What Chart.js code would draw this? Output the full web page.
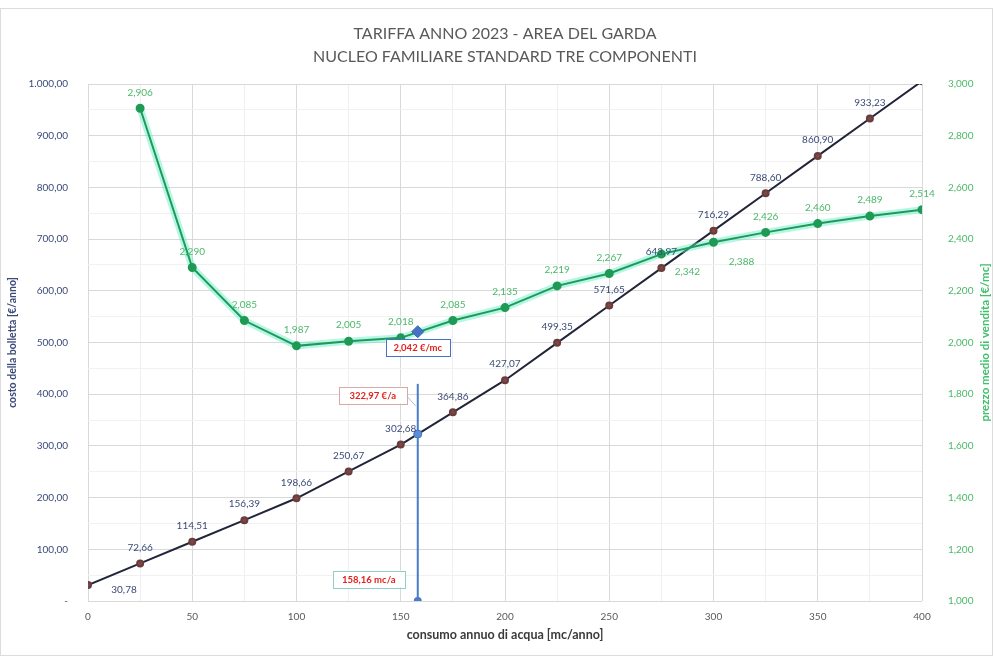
<!DOCTYPE html>
<html>
<head>
<meta charset="utf-8">
<script src="https://cdn.jsdelivr.net/npm/chart.js@4/dist/chart.umd.min.js"></script>
<style>
  html, body { margin: 0; padding: 0; background: #ffffff; }
  #wrap { width: 993px; height: 656px; }
</style>
</head>
<body>
<div id="wrap"><canvas id="c" width="993" height="656"></canvas></div>
<script>
// Consumo annuo [mc/anno] e costo della bolletta [€/anno]
const consumo = [0, 25, 50, 75, 100, 125, 150, 175, 200, 225, 250, 275, 300, 325, 350, 375, 400];
const costoBolletta = [30.78, 72.66, 114.51, 156.39, 198.66, 250.67, 302.68, 364.86, 427.07, 499.35, 571.65, 643.97, 716.29, 788.60, 860.90, 933.23, 1005.55];

// Prezzo medio di vendita [€/mc]
const consumoPrezzo = [25, 50, 75, 100, 125, 150, 175, 200, 225, 250, 275, 300, 325, 350, 375, 400];
const prezzoMedio = [2.906, 2.290, 2.085, 1.987, 2.005, 2.018, 2.085, 2.135, 2.219, 2.267, 2.342, 2.388, 2.426, 2.460, 2.489, 2.514];

// Nucleo familiare standard
const consumoStandard = 158.16;
const costoStandard = 322.97;
const prezzoStandard = 2.042;
const lineaStandard = [0, 420];

// Assi
const xTickLabels = [0, 50, 100, 150, 200, 250, 300, 350, 400];
const titolo = ['TARIFFA ANNO 2023 - AREA DEL GARDA', 'NUCLEO FAMILIARE STANDARD TRE COMPONENTI'];
const titoloX = 'consumo annuo di acqua [mc/anno]';
const titoloY = 'costo della bolletta [€/anno]';
const titoloY1 = 'prezzo medio di vendita [€/mc]';

const FONT = 'Lato, "Open Sans", sans-serif';
const NAVY = '#3b4a78';
const GREEN_TXT = '#4cb86a';
const GREEN = '#1f9a55';
const RED = '#e3201c';

function fmtEuro(v) {
  const parts = v.toFixed(2).split('.');
  parts[0] = parts[0].replace(/\B(?=(\d{3})+(?!\d))/g, '.');
  return parts[0] + ',' + parts[1];
}
function fmtPrezzo(v) { return v.toFixed(3).replace('.', ','); }

const bollettaPts = consumo.map((x, i) => ({ x, y: costoBolletta[i] }));
const prezzoPts = consumoPrezzo.map((x, i) => ({ x, y: prezzoMedio[i] }));

// Etichette dei valori: spostamenti rispetto al punto
const offBolletta = consumo.map((x, i) => i === 0 ? [36, 5] : [0, -16]);
const offPrezzo = consumoPrezzo.map((x, i) => {
  if (x === 275) return [26, 18];
  if (x === 300) return [28, 20];
  return [0, -16];
});

const extras = {
  id: 'extras',
  beforeDraw(chart) {
    const ctx = chart.ctx;
    ctx.save();
    ctx.fillStyle = '#ffffff';
    ctx.fillRect(0, 0, chart.width, chart.height);
    ctx.restore();
  },
  afterDatasetsDraw(chart) {
    const ctx = chart.ctx;
    const xs = chart.scales.x, ys = chart.scales.y, y1 = chart.scales.y1;
    ctx.save();
    ctx.textAlign = 'center';
    ctx.textBaseline = 'middle';

    // valori costo bolletta
    ctx.font = '10px ' + FONT;
    ctx.fillStyle = NAVY;
    bollettaPts.forEach((p, i) => {
      if (p.y > 1000) return;
      const px = xs.getPixelForValue(p.x), py = ys.getPixelForValue(p.y);
      ctx.fillText(fmtEuro(p.y), px + offBolletta[i][0], py + offBolletta[i][1]);
    });

    // valori prezzo medio
    ctx.fillStyle = GREEN_TXT;
    prezzoPts.forEach((p, i) => {
      const px = xs.getPixelForValue(p.x), py = y1.getPixelForValue(p.y);
      ctx.fillText(fmtPrezzo(p.y), px + offPrezzo[i][0], py + offPrezzo[i][1]);
    });

    // riquadri del nucleo standard
    const sx = xs.getPixelForValue(consumoStandard);
    const box = (text, cx, cy, w, border) => {
      ctx.fillStyle = '#ffffff';
      ctx.fillRect(cx - w / 2, cy - 8.5, w, 17);
      ctx.strokeStyle = border;
      ctx.lineWidth = 1;
      ctx.strokeRect(Math.round(cx - w / 2) + 0.5, Math.round(cy - 8.5) + 0.5, w, 17);
      ctx.fillStyle = RED;
      ctx.font = 'bold 9.5px ' + FONT;
      ctx.fillText(text, cx, cy + 0.5);
    };
    const pyPrezzo = y1.getPixelForValue(prezzoStandard);
    box(fmtPrezzo(prezzoStandard) + ' €/mc', sx, pyPrezzo + 16, 64, '#4472c4');

    const pyCosto = ys.getPixelForValue(costoStandard);
    ctx.strokeStyle = 'rgba(120,150,200,0.6)';
    ctx.lineWidth = 1;
    ctx.beginPath();
    ctx.moveTo(sx - 12, pyCosto - 39);
    ctx.lineTo(sx - 2, pyCosto - 28);
    ctx.stroke();
    box(fmtEuro(costoStandard) + ' €/a', sx - 45, pyCosto - 39, 68, '#d7a9a9');

    const py0 = ys.getPixelForValue(0);
    box(fmtEuro(consumoStandard) + ' mc/a', sx - 49, py0 - 22, 72, '#8fcfc6');
    ctx.restore();
  },
  afterDraw(chart) {
    const ctx = chart.ctx;
    const a = chart.chartArea;
    ctx.save();
    // titolo
    ctx.fillStyle = '#595959';
    ctx.textAlign = 'center';
    ctx.textBaseline = 'middle';
    ctx.font = '16px ' + FONT;
    const cx = (a.left + a.right) / 2;
    ctx.fillText(titolo[0], cx, 34);
    ctx.fillText(titolo[1], cx, 57);

    // titolo asse x
    ctx.font = 'bold 12.5px ' + FONT;
    ctx.fillStyle = '#3a3a3a';
    ctx.fillText(titoloX, cx, 635);

    // titoli assi verticali
    const cy = (a.top + a.bottom) / 2;
    ctx.font = 'bold 10.5px ' + FONT;
    ctx.fillStyle = NAVY;
    ctx.save();
    ctx.translate(13, cy);
    ctx.rotate(-Math.PI / 2);
    ctx.fillText(titoloY, 0, 0);
    ctx.restore();
    ctx.font = 'bold 11.5px ' + FONT;
    ctx.fillStyle = '#3fc06a';
    ctx.save();
    ctx.translate(985, cy);
    ctx.rotate(-Math.PI / 2);
    ctx.fillText(titoloY1, 0, 0);
    ctx.restore();

    // cornice
    ctx.strokeStyle = '#dcdcdc';
    ctx.lineWidth = 1;
    ctx.strokeRect(0.5, 8.5, chart.width - 1, chart.height - 9);
    ctx.restore();
  }
};

new Chart(document.getElementById('c'), {
  type: 'line',
  data: {
    datasets: [
      {
        label: 'prezzo medio',
        data: prezzoPts,
        yAxisID: 'y1',
        borderColor: GREEN,
        borderWidth: 2,
        pointRadius: 3.5,
        pointBackgroundColor: GREEN,
        pointBorderColor: GREEN,
        order: 2
      },
      {
        label: 'prezzo medio alone',
        data: prezzoPts,
        yAxisID: 'y1',
        borderColor: 'rgba(90,235,200,0.45)',
        borderWidth: 7,
        pointRadius: 0,
        order: 3
      },
      {
        label: 'prezzo nucleo standard',
        data: [{ x: consumoStandard, y: prezzoStandard }],
        yAxisID: 'y1',
        showLine: false,
        pointStyle: 'rectRot',
        pointRadius: 6,
        pointBackgroundColor: '#4472c4',
        pointBorderColor: '#3a62b0',
        order: 0
      },
      {
        label: 'costo bolletta',
        data: bollettaPts,
        yAxisID: 'y',
        borderColor: '#22253a',
        borderWidth: 2,
        pointRadius: 3,
        pointBackgroundColor: '#7a4848',
        pointBorderColor: '#6a3c3c',
        order: 4
      },
      {
        label: 'costo nucleo standard',
        data: [{ x: consumoStandard, y: costoStandard }],
        yAxisID: 'y',
        showLine: false,
        pointRadius: 4,
        pointBackgroundColor: '#5b8fd6',
        pointBorderColor: '#4472c4',
        order: 1
      },
      {
        label: 'consumo nucleo standard',
        data: lineaStandard.map(v => ({ x: consumoStandard, y: v })),
        yAxisID: 'y',
        borderColor: '#4a7cc8',
        borderWidth: 2,
        pointRadius: [3, 0],
        pointBackgroundColor: '#4a7cc8',
        pointBorderColor: '#4a7cc8',
        order: 1
      }
    ]
  },
  options: {
    responsive: false,
    animation: false,
    devicePixelRatio: 1,
    layout: { padding: { top: 84, left: 0, right: 0, bottom: 0 } },
    plugins: {
      legend: { display: false },
      title: { display: false },
      tooltip: { enabled: false }
    },
    scales: {
      x: {
        type: 'linear',
        min: 0,
        max: 400,
        afterFit(s) { s.height = 55; },
        afterBuildTicks(s) {
          s.ticks = [];
          for (let v = 0; v <= 400; v += 25) s.ticks.push({ value: v });
        },
        ticks: {
          callback: v => xTickLabels.includes(v) ? String(v) : '',
          color: '#595959',
          font: { family: FONT, size: 10 },
          padding: 10,
          maxRotation: 0,
          autoSkip: false
        },
        grid: {
          color: c => (c.tick && c.tick.value % 50 === 0) ? '#d9d9d9' : '#efefef',
          drawTicks: false
        },
        border: { display: false }
      },
      y: {
        position: 'left',
        min: 0,
        max: 1000,
        afterFit(s) { s.width = 88; },
        afterBuildTicks(s) {
          s.ticks = [];
          for (let v = 0; v <= 1000; v += 50) s.ticks.push({ value: v });
        },
        ticks: {
          callback: v => v % 100 !== 0 ? '' : (v === 0 ? '-' : fmtEuro(v)),
          color: NAVY,
          font: { family: FONT, size: 10 },
          padding: 20,
          autoSkip: false
        },
        grid: {
          color: c => (c.tick && c.tick.value % 100 === 0) ? '#d9d9d9' : '#f1f1f1',
          drawTicks: false
        },
        border: { display: false }
      },
      y1: {
        position: 'right',
        min: 1,
        max: 3,
        afterFit(s) { s.width = 71; },
        afterBuildTicks(s) {
          s.ticks = [];
          for (let k = 0; k <= 10; k++) s.ticks.push({ value: 1 + k * 0.2 });
        },
        ticks: {
          callback: v => fmtPrezzo(v),
          color: GREEN_TXT,
          font: { family: FONT, size: 10 },
          padding: 26,
          autoSkip: false
        },
        grid: { drawOnChartArea: false, drawTicks: false },
        border: { display: false }
      }
    }
  },
  plugins: [extras]
});
</script>
</body>
</html>
